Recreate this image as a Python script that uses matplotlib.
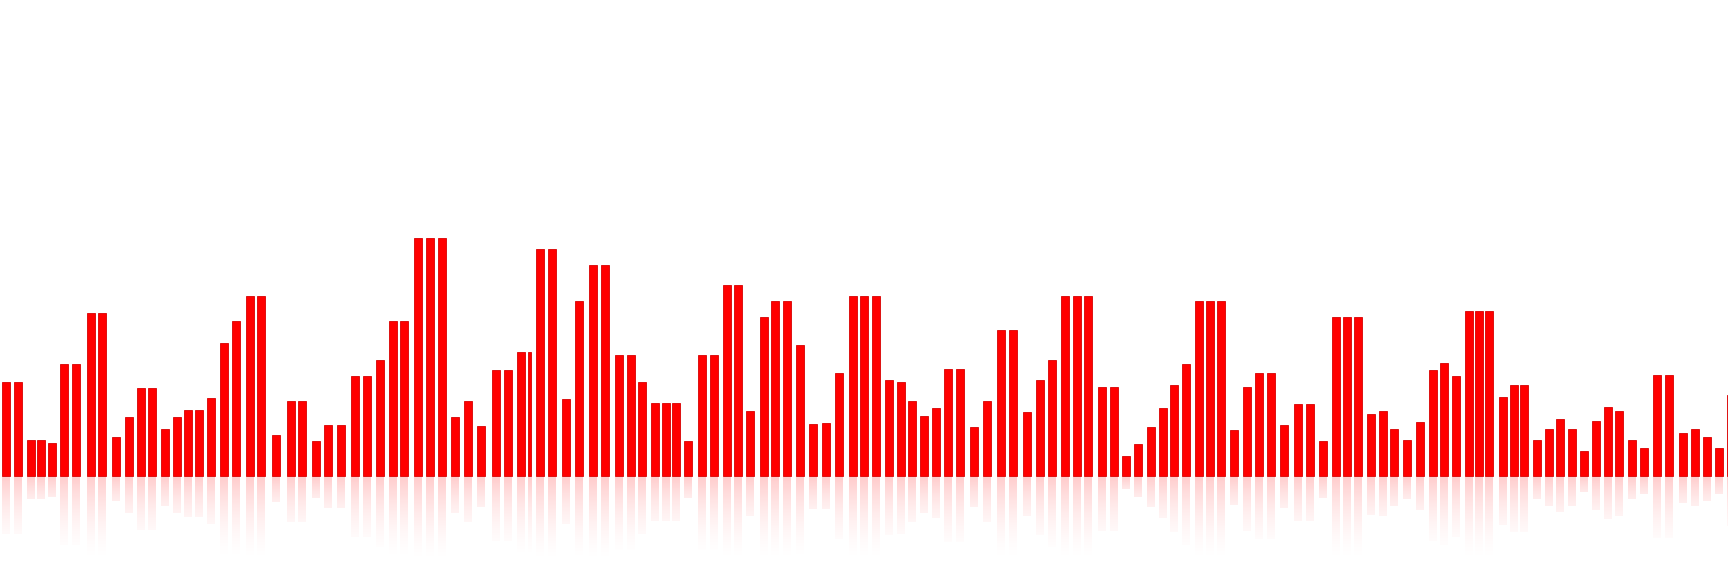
"""
Red equalizer-style bar chart with a faded mirror reflection.
"""
import matplotlib
matplotlib.use("Agg")
import matplotlib.pyplot as plt
import numpy as np

# bar centres (x) and bar heights
x_pos = [6, 17.5, 31, 40.5, 51.5, 64, 76, 90.5, 102, 115.5, 128.5, 140.5, 152, 165,
         177, 188, 198.5, 210.5, 223.5, 235.5, 249.5, 261, 276, 290.5, 301.5, 315.5,
         328, 341, 355, 366.5, 380, 392.5, 404, 418, 430, 441.5, 455, 468, 481,
         495.5, 507.5, 521, 529.5, 540, 551.5, 565.5, 579, 593, 605, 618.5, 630.5,
         642, 655, 666, 675.5, 688, 701.5, 713.5, 727, 738, 750, 763.5, 775, 786.5,
         799.5, 813, 825.5, 838.5, 852.5, 864, 876, 889, 900.5, 912, 924, 936,
         947.5, 959.5, 973.5, 986.5, 1000.5, 1012.5, 1026.5, 1039.5, 1051.5, 1065,
         1076.5, 1087.5, 1101.5, 1113.5, 1126, 1138, 1151, 1162.5, 1174, 1185.5,
         1199, 1209.5, 1220.5, 1233.5, 1247, 1258.5, 1270.5, 1284, 1297.5, 1309.5,
         1323, 1335.5, 1346.5, 1358, 1371, 1382.5, 1394, 1407, 1419.5, 1432.5,
         1443.5, 1456, 1468.5, 1479, 1489, 1502.5, 1513.5, 1524, 1537, 1549, 1560,
         1572, 1584, 1596, 1608, 1619, 1632, 1644, 1657, 1669, 1682.5, 1694.5,
         1706.5, 1718.5, 1731]
heights = [94, 94, 36, 36, 33, 112, 112, 163, 163, 39, 59, 88, 88, 47,
           59, 66, 66, 78, 133, 155, 180, 180, 41, 75, 75, 35,
           51, 51, 100, 100, 116, 155, 155, 238, 238, 238, 59, 75, 50,
           106, 106, 124, 124, 227, 227, 77, 175, 211, 211, 121, 121,
           94, 73, 73, 73, 35, 121, 121, 191, 191, 65, 159, 175, 175,
           131, 52, 53, 103, 180, 180, 180, 96, 94, 75, 60, 68,
           107, 107, 49, 75, 146, 146, 64, 96, 116, 180,
           180, 180, 89, 89, 20, 32, 49, 68, 91, 112,
           175, 175, 175, 46, 89, 103, 103, 51, 72, 72,
           35, 159, 159, 159, 62, 65, 47, 36, 54, 106,
           113, 100, 165, 165, 165, 79, 91, 91, 36, 47, 57,
           47, 25, 55, 69, 65, 36, 28, 101, 101, 43, 47,
           39, 28, 81]

x = np.array(x_pos, dtype=float)
h = np.array(heights, dtype=float)
widths = np.full(len(x), 8.0)
widths[42] = 3.5   # the thin sliver next to the 124 pair

fig = plt.figure(figsize=(17.28, 5.76), dpi=100)
ax = fig.add_axes([0, 0, 1, 1])
ax.set_facecolor("white")

ax.bar(x, h, width=widths, color="#ff0000", edgecolor="#d80000", linewidth=0.6,
       zorder=3)

# reflection: mirrored bar, cut at 0.6 of the height, fading with depth
gap, fade = 1.5, 85.0
for xi, hi, wi in zip(x, h, widths):
    length = 0.6 * hi
    d = np.linspace(0, length, 80)
    grad = np.zeros((len(d), 1, 4))
    grad[..., 0] = 1.0
    grad[:, 0, 3] = (0.2 * np.clip(1 - d / fade, 0, 1) ** 1.4
                     * (1 - 0.45 * d / length))
    ax.imshow(grad, extent=[xi - wi / 2, xi + wi / 2, -gap - length, -gap],
              aspect="auto", interpolation="bilinear", zorder=2)

ax.set_xlim(0, 1728)
ax.set_ylim(-100, 476)
ax.axis("off")

fig.savefig("out.png", dpi=100, facecolor="white")
